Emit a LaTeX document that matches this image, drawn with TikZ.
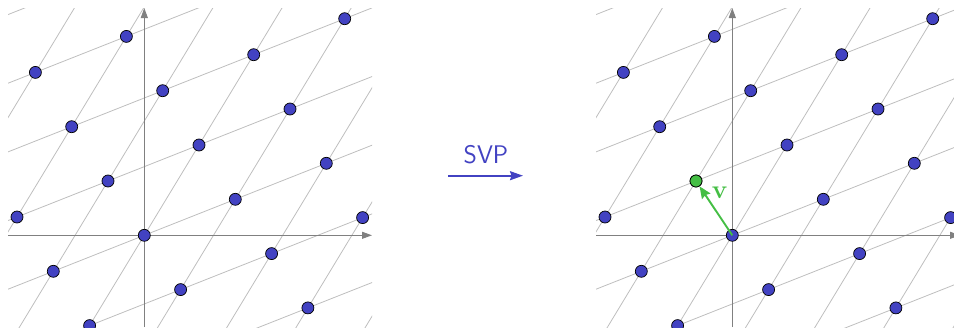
\documentclass[tikz,border=0pt]{standalone}
\usetikzlibrary{arrows.meta}
\definecolor{ptblue}{RGB}{66,66,194}
\definecolor{ptgreen}{RGB}{68,190,68}
\definecolor{axisgray}{RGB}{128,128,128}
\definecolor{gridgray}{RGB}{190,190,190}
\tikzset{
  latpt/.style={circle, draw=black, line width=0.7pt, fill=ptblue, minimum size=12pt, inner sep=0pt},
  gridline/.style={draw=gridgray, line width=0.8pt},
  axisline/.style={draw=axisgray, line width=1pt, -{Triangle[length=10pt,width=7pt]}},
}
% One panel: lattice with basis b=(91,-36), a=(36.3,54.3) (y grows downwards)
\newcommand{\latticepanel}[2]{%
  \begin{scope}[shift={(#1,0)}]
    \begin{scope}[shift={(144.3,235.3)}]
      \begin{scope}
        \clip (-136.3,-227.3) rectangle (227.7,91.7);
        % rows along b
        \foreach \j in {-4,...,2}
          \draw[gridline] (\j*36.3-5*91, \j*54.3+5*36) -- (\j*36.3+5*91, \j*54.3-5*36);
        % columns along b-a
        \foreach \k in {-3,...,4}
          \draw[gridline] (\k*36.3-4*54.7, \k*54.3+4*90.3) -- (\k*36.3+4*54.7, \k*54.3-4*90.3);
      \end{scope}
      % axes
      \coordinate (#2xs) at (-136.3,0);
      \coordinate (#2xe) at (227.7,0);
      \coordinate (#2ys) at (0,91.7);
      \coordinate (#2ye) at (0,-227.3);
      \draw[axisline] (#2xs) -- (#2xe);
      \draw[axisline] (#2ys) -- (#2ye);
      % lattice points
      \foreach \i/\j in {0/0,0/-1,0/-2,0/-3,1/-3,1/-2,1/-1,1/0,1/1,1/2,
                         2/-2,2/-1,2/0,2/1,3/-2,-1/0,-1/1,-1/-1,0/1}
        \node[latpt] (#2-\i-\j) at (\i*91+\j*36.3, -\i*36+\j*54.3) {};
    \end{scope}
  \end{scope}%
}

\begin{document}
\begin{tikzpicture}[x=1pt,y=-1pt]
  \useasboundingbox (0,0) rectangle (954,327);

  % original lattice
  \latticepanel{0}{L}

  % the reduction step
  \node[text=ptblue, font=\sffamily\fontsize{25.5}{30}\selectfont] (svp) at (486,155) {SVP};
  \coordinate (svpA) at (448,175.7);
  \coordinate (svpB) at (523,175.7);
  \draw[ptblue, line width=1.8pt, -{Stealth[length=13pt,width=9pt,inset=1.5pt]}] (svpA) -- (svpB);

  % lattice with the shortest vector marked
  \latticepanel{588}{R}
  \node[latpt, fill=ptgreen] (vpt) at (R-0--1) {};
  \draw[ptgreen, line width=1.9pt, -{Stealth[length=12pt,width=10pt,inset=1.5pt]}]
    (R-0-0.center) -- (vpt);
  \node[text=ptgreen, font=\fontsize{26}{31}\selectfont\bfseries, inner sep=0pt] (vlabel) at (719.7,193) {v};
\end{tikzpicture}
\end{document}
